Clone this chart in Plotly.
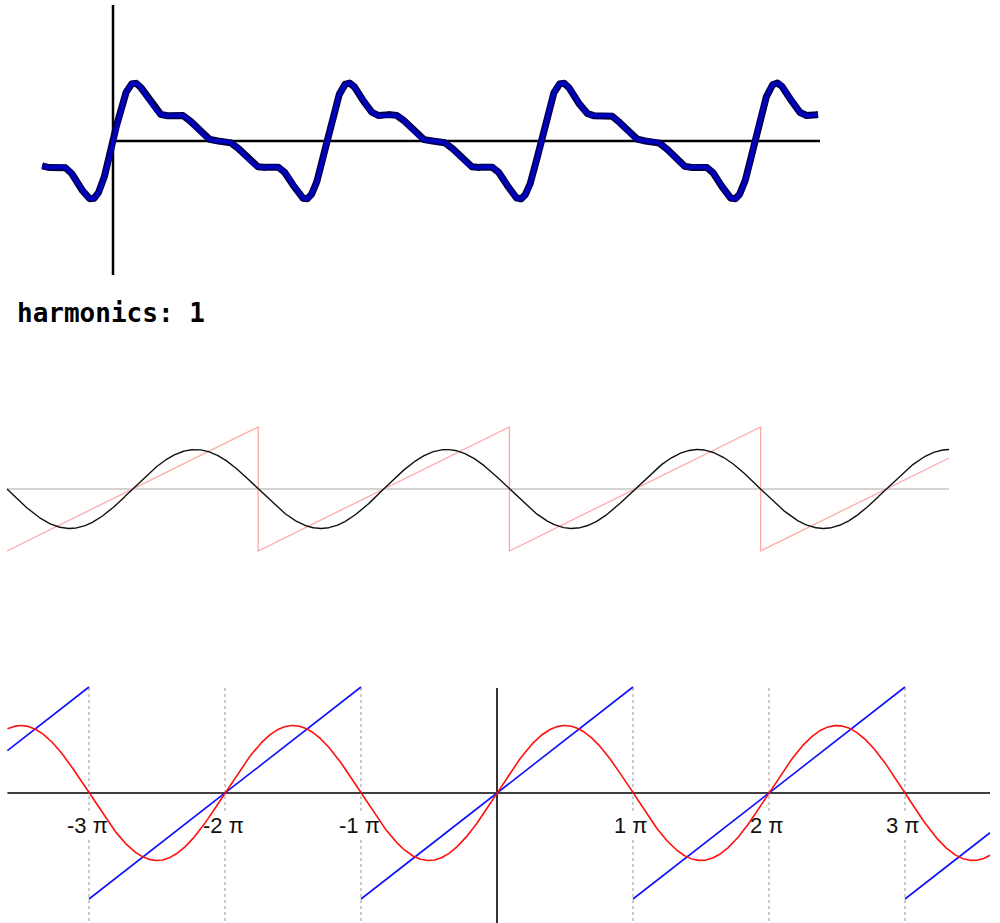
import numpy as np
import plotly.graph_objects as go

PI = np.pi

# ---------------- data ----------------
# Top panel: Fourier partial sum  sum_n c_n sin(n t)
top_harmonics = [1, 2, 3, 4]
top_coeffs = [1.0, 1 / 2, 1 / 3, 1 / 4]
top_t_range = [-2.08, 20.70]

# Middle and bottom panels: first harmonic approximation of the sawtooth
fit_harmonics = [1]
fit_coeffs = [2.0]
mid_t_range = [-PI, 6.5 * PI]
bot_t_range = [-3.6 * PI, 3.625 * PI]

tick_multiples = [-3, -2, -1, 1, 2, 3]
tick_labels = ["-3 π", "-2 π", "-1 π", "1 π", "2 π", "3 π"]
label_text = "harmonics: 1"

# ---------------- helpers ----------------
W, H = 1000, 923


def fourier(t, harmonics, coeffs):
    y = np.zeros_like(t)
    for n, c in zip(harmonics, coeffs):
        y += c * np.sin(n * t)
    return y


def saw(t):
    return ((t + PI) % (2 * PI)) - PI


def saw_points(t0, t1, connect):
    k0 = int(np.ceil((t0 - PI) / (2 * PI)))
    jumps = []
    k = k0
    while PI + 2 * PI * k < t1:
        jt = PI + 2 * PI * k
        if jt > t0:
            jumps.append(jt)
        k += 1
    xs, ys = [t0], [saw(t0)]
    for jt in jumps:
        xs.append(jt); ys.append(PI)
        if not connect:
            xs.append(None); ys.append(None)
        xs.append(jt); ys.append(-PI)
    xs.append(t1); ys.append(saw(t1))
    return xs, ys


# panel geometry (pixels)
top_box = (0, 290); top_org = (113, 141); top_sx = 214 / (2 * PI); top_sy = 38.0
mid_box = (330, 650); mid_sx = 125.6 / PI; mid_org = (7 + PI * mid_sx, 489); mid_sy = 62 / PI
bot_box = (680, 923); bot_org = (497, 793); bot_sx = 136 / PI; bot_sy = 106 / PI


def axis_ranges(box, org, sx, sy):
    xr = [(0 - org[0]) / sx, (W - org[0]) / sx]
    yr = [-(box[1] - org[1]) / sy, (org[1] - box[0]) / sy]
    dom = [1 - box[1] / H, 1 - box[0] / H]
    return xr, yr, dom


fig = go.Figure()

# ---------------- top panel ----------------
tt = np.linspace(top_t_range[0], top_t_range[1], 3000)
ty = fourier(tt, top_harmonics, top_coeffs)
fig.add_trace(go.Scatter(x=tt, y=ty, mode="lines", xaxis="x", yaxis="y",
                         line=dict(color="#00004a", width=7), hoverinfo="skip"))
fig.add_trace(go.Scatter(x=tt, y=ty, mode="lines", xaxis="x", yaxis="y",
                         line=dict(color="#0000c0", width=4), hoverinfo="skip"))

# ---------------- middle panel ----------------
mt = np.linspace(mid_t_range[0], mid_t_range[1], 3000)
my = fourier(mt, fit_harmonics, fit_coeffs)
fig.add_trace(go.Scatter(x=[mid_t_range[0], mid_t_range[1]], y=[0, 0], mode="lines",
                         xaxis="x2", yaxis="y2", line=dict(color="#c4c4c4", width=1.6),
                         hoverinfo="skip"))
sx_, sy_ = saw_points(mid_t_range[0], mid_t_range[1], connect=True)
fig.add_trace(go.Scatter(x=sx_, y=sy_, mode="lines", xaxis="x2", yaxis="y2",
                         line=dict(color="#ffa8a8", width=1.3), hoverinfo="skip"))
fig.add_trace(go.Scatter(x=mt, y=my, mode="lines", xaxis="x2", yaxis="y2",
                         line=dict(color="#111111", width=1.4), hoverinfo="skip"))

# ---------------- bottom panel ----------------
bt = np.linspace(bot_t_range[0], bot_t_range[1], 3000)
by = fourier(bt, fit_harmonics, fit_coeffs)
bx_, by_ = saw_points(bot_t_range[0], bot_t_range[1], connect=False)
fig.add_trace(go.Scatter(x=bx_, y=by_, mode="lines", xaxis="x3", yaxis="y3",
                         line=dict(color="#1010ff", width=1.6), hoverinfo="skip",
                         connectgaps=False))
fig.add_trace(go.Scatter(x=bt, y=by, mode="lines", xaxis="x3", yaxis="y3",
                         line=dict(color="#ff1010", width=1.6), hoverinfo="skip"))

# ---------------- axes ----------------
layout_axes = {}
for i, (box, org, sx, sy) in enumerate([(top_box, top_org, top_sx, top_sy),
                                        (mid_box, mid_org, mid_sx, mid_sy),
                                        (bot_box, bot_org, bot_sx, bot_sy)]):
    xr, yr, dom = axis_ranges(box, org, sx, sy)
    sfx = "" if i == 0 else str(i + 1)
    layout_axes["xaxis" + sfx] = dict(range=xr, domain=[0, 1], visible=False,
                                      anchor="y" + sfx, fixedrange=True)
    layout_axes["yaxis" + sfx] = dict(range=yr, domain=dom, visible=False,
                                      anchor="x" + sfx, fixedrange=True)

shapes = []
# top axes
shapes.append(dict(type="line", xref="x", yref="y", x0=0, x1=0,
                   y0=(top_org[1] - 5) / top_sy, y1=(top_org[1] - 275) / top_sy,
                   line=dict(color="black", width=2.5), layer="below"))
shapes.append(dict(type="line", xref="x", yref="y", x0=0, x1=(820 - top_org[0]) / top_sx,
                   y0=0, y1=0, line=dict(color="black", width=2.5), layer="below"))

# bottom axes & dotted grid
b_top = (bot_org[1] - 688) / bot_sy
b_bot = (bot_org[1] - 923) / bot_sy
g_gap0 = (bot_org[1] - 811) / bot_sy
g_gap1 = (bot_org[1] - 840) / bot_sy
for m in tick_multiples:
    xv = m * PI
    for (a, b) in [(b_top, g_gap0), (g_gap1, b_bot)]:
        shapes.append(dict(type="line", xref="x3", yref="y3", x0=xv, x1=xv, y0=a, y1=b,
                           line=dict(color="#a8a8a8", width=1.2, dash="dot"), layer="below"))
shapes.append(dict(type="line", xref="x3", yref="y3", x0=bot_t_range[0], x1=bot_t_range[1],
                   y0=0, y1=0, line=dict(color="black", width=1.6), layer="below"))
shapes.append(dict(type="line", xref="x3", yref="y3", x0=0, x1=0, y0=b_top, y1=b_bot,
                   line=dict(color="black", width=1.6), layer="below"))

annotations = []
lab_y = (bot_org[1] - 825) / bot_sy
for m, lab in zip(tick_multiples, tick_labels):
    annotations.append(dict(x=m * PI, y=lab_y, xref="x3", yref="y3", text=lab,
                            showarrow=False, xanchor="center", yanchor="middle", xshift=-2,
                            font=dict(family="Liberation Sans, Arial", size=22, color="#111111")))

annotations.append(dict(x=15 / W, y=1 - 313 / H, xref="paper", yref="paper",
                        text="<b>" + label_text + "</b>", showarrow=False,
                        xanchor="left", yanchor="middle",
                        font=dict(family="DejaVu Sans Mono", size=26, color="black")))

fig.update_layout(width=W, height=H, margin=dict(l=0, r=0, t=0, b=0),
                  paper_bgcolor="white", plot_bgcolor="rgba(0,0,0,0)",
                  showlegend=False, shapes=shapes, annotations=annotations,
                  **layout_axes)

fig.write_html("out.html", config={"displayModeBar": False},
               post_script="document.body.style.margin='0';document.body.style.overflow='hidden';")
